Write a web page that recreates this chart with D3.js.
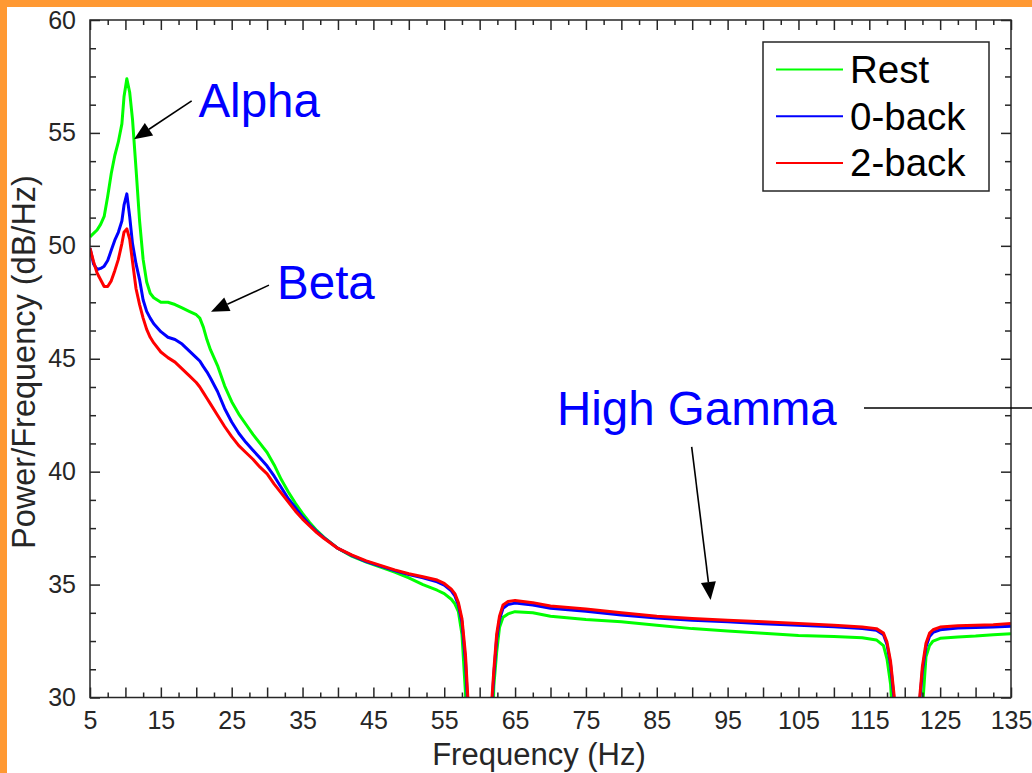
<!DOCTYPE html>
<html>
<head>
<meta charset="utf-8">
<script src="https://d3js.org/d3.v7.min.js"></script>
<style>
  body { margin: 0; background: #fff; }
  svg { display: block; font-family: "Liberation Sans", Arial, Helvetica, sans-serif; }
</style>
</head>
<body>
<svg></svg>
<script>
// frequency grid (Hz) shared by the three spectra
var freqs = [5, 5.5, 6, 6.5, 7, 7.5, 8, 8.5, 9, 9.5, 9.8, 10.2, 10.6, 11, 11.5, 12, 12.5, 13, 13.5, 14,
  15, 16, 17, 18, 19, 20, 20.5, 21, 21.5, 22, 23, 24, 25, 26, 27, 28, 29, 30, 31, 32, 33, 34, 35, 36, 37, 38,
  40, 42, 44, 46, 48, 50, 52, 54, 55, 56, 56.5, 57, 57.5, 58, 58.4, 59, 60, 61, 61.7, 62, 62.4, 62.8, 63.3, 64,
  65, 67.5, 70, 75, 80, 85, 90, 95, 100, 105, 110, 114, 116, 117, 117.5, 118, 118.5, 119, 120, 121, 122, 122.5,
  123, 123.5, 124, 125, 127.5, 130, 132.5, 135];

// power (dB/Hz)
var rest = [50.4, 50.55, 50.7, 50.95, 51.3, 52.2, 53.2, 54.0, 54.6, 55.4, 56.6, 57.4, 56.8, 55.6, 53.4, 51.1, 49.4, 48.4, 47.9, 47.7,
  47.5, 47.5, 47.4, 47.25, 47.1, 46.95, 46.8, 46.4, 45.85, 45.4, 44.7, 43.8, 43.1, 42.55, 42.1, 41.65, 41.25, 40.85, 40.3, 39.65, 39.1, 38.6, 38.15, 37.75, 37.4, 37.1,
  36.6, 36.25, 36.0, 35.78, 35.55, 35.3, 35.0, 34.75, 34.6, 34.35, 34.15, 33.8, 32.8, 30.2, 26, 22, 18, 22, 27, 30.5, 32.0, 33.1, 33.55, 33.7,
  33.8, 33.75, 33.6, 33.45, 33.35, 33.2, 33.05, 32.95, 32.85, 32.75, 32.7, 32.65, 32.55, 32.3, 31.7, 30.6, 28, 24, 18, 22, 26, 29.5,
  31.8, 32.3, 32.5, 32.62, 32.68, 32.72, 32.78, 32.82];

var back0 = [49.9, 49.2, 48.95, 49.0, 49.1, 49.35, 49.8, 50.25, 50.6, 51.1, 51.8, 52.3, 51.3, 50.1, 49.2, 48.5, 47.6, 47.1, 46.8, 46.55,
  46.2, 45.95, 45.85, 45.65, 45.35, 45.05, 44.9, 44.65, 44.42, 44.15, 43.55, 42.8, 42.2, 41.7, 41.3, 40.95, 40.6, 40.25, 39.8, 39.3, 38.8, 38.4, 38.0, 37.65, 37.35, 37.08,
  36.6, 36.28, 36.02, 35.82, 35.62, 35.44, 35.3, 35.12, 34.98, 34.72, 34.5, 34.1, 33.35, 31.6, 29.2, 24, 18, 23, 29.5, 31.0, 32.6, 33.45, 33.95, 34.12,
  34.18, 34.1, 33.95, 33.82, 33.65, 33.52, 33.42, 33.35, 33.27, 33.2, 33.13, 33.05, 32.98, 32.78, 32.35, 31.45, 29.9, 27, 20, 23, 29.4, 31.2,
  32.25, 32.7, 32.88, 33.0, 33.08, 33.1, 33.12, 33.16];

var back2 = [49.9, 49.3, 48.8, 48.5, 48.2, 48.2, 48.45, 48.9, 49.4, 50.1, 50.6, 50.75, 50.3, 49.3, 48.1, 47.4, 46.8, 46.3, 45.95, 45.7,
  45.3, 45.05, 44.85, 44.55, 44.25, 43.95, 43.75, 43.5, 43.25, 43.0, 42.5, 42.0, 41.55, 41.15, 40.85, 40.55, 40.2, 39.9, 39.45, 39.05, 38.65, 38.25, 37.9, 37.6, 37.3, 37.05,
  36.6, 36.3, 36.05, 35.85, 35.65, 35.48, 35.35, 35.2, 35.05, 34.8, 34.6, 34.2, 33.5, 31.9, 29.6, 24, 18, 23, 29.8, 31.2, 32.8, 33.6, 34.1, 34.25,
  34.3, 34.2, 34.05, 33.92, 33.75, 33.6, 33.5, 33.42, 33.35, 33.28, 33.2, 33.12, 33.05, 32.85, 32.45, 31.6, 30.1, 27, 20, 23, 29.6, 31.4,
  32.4, 32.85, 33.0, 33.12, 33.18, 33.2, 33.22, 33.28];

var seriesNames = ["Rest", "0-back", "2-back"];
var seriesColors = ["#00ff00", "#0000ff", "#ff0000"];

var xLabelTicks = [5, 15, 25, 35, 45, 55, 65, 75, 85, 95, 105, 115, 125, 135];
var yLabelTicks = [30, 35, 40, 45, 50, 55, 60];

// band annotations: text position and arrow (from -> to), in Hz / dB
var bandLabels = ["Alpha", "Beta", "High Gamma"];
var bandText = [[20.3, 55.7], [31.4, 47.64], [70.9, 42.06]];
var bandArrowFrom = [[19.35, 56.42], [30.26, 48.26], [89.93, 41.1]];
var bandArrowTo = [[11.21, 54.72], [22.08, 47.08], [92.6, 34.32]];

drawChart();

function drawChart() {
  var svgWidth = 1032, svgHeight = 773;
  var margin = { top: 20, right: 21, bottom: 75.5, left: 90 };
  var width = svgWidth - margin.left - margin.right;
  var height = svgHeight - margin.top - margin.bottom;
  var axisColor = "#262626";

  var svg = d3.select("svg")
    .attr("width", svgWidth)
    .attr("height", svgHeight);

  svg.append("rect").attr("width", svgWidth).attr("height", svgHeight).attr("fill", "#fff");

  var g = svg.append("g")
    .attr("transform", "translate(" + margin.left + "," + margin.top + ")");

  var x = d3.scaleLinear().domain([5, 135]).range([0, width]);
  var y = d3.scaleLinear().domain([30, 60]).range([height, 0]);

  g.append("clipPath").attr("id", "clip")
    .append("rect").attr("width", width).attr("height", height);

  var line = d3.line()
    .x(function(d) { return x(d[0]); })
    .y(function(d) { return y(d[1]); });

  [rest, back0, back2].forEach(function(vals, i) {
    g.append("path")
      .datum(freqs.map(function(f, j) { return [f, vals[j]]; }))
      .attr("clip-path", "url(#clip)")
      .attr("fill", "none")
      .attr("stroke", seriesColors[i])
      .attr("stroke-width", 3)
      .attr("stroke-linejoin", "round")
      .attr("d", line);
  });

  // ticks: majors every 5, minors in between, all pointing inward
  var xMajor = d3.range(5, 136, 5);
  var xMinor = d3.range(7.5, 135, 5);
  var yMajor = d3.range(30, 61, 5);
  var yMinor = d3.range(30, 60.01, 1.25).filter(function(v) { return v % 5 !== 0; });

  function styleAxis(sel) {
    sel.select(".domain").remove();
    sel.selectAll("line").attr("stroke", axisColor).attr("stroke-width", 1.5);
    sel.selectAll("text").attr("fill", axisColor).attr("font-size", 25);
  }

  g.append("g").attr("transform", "translate(0," + height + ")")
    .call(d3.axisBottom(x).tickValues(xMajor).tickSize(-10).tickPadding(14)
      .tickFormat(function(d) { return xLabelTicks.indexOf(d) >= 0 ? d : ""; }))
    .call(styleAxis);
  g.append("g").attr("transform", "translate(0," + height + ")")
    .call(d3.axisBottom(x).tickValues(xMinor).tickSize(-5).tickFormat(""))
    .call(styleAxis);
  g.append("g")
    .call(d3.axisTop(x).tickValues(xMajor).tickSize(-10).tickFormat(""))
    .call(styleAxis);
  g.append("g")
    .call(d3.axisTop(x).tickValues(xMinor).tickSize(-5).tickFormat(""))
    .call(styleAxis);

  g.append("g")
    .call(d3.axisLeft(y).tickValues(yMajor).tickSize(-10).tickPadding(14)
      .tickFormat(function(d) { return yLabelTicks.indexOf(d) >= 0 ? d : ""; }))
    .call(styleAxis);
  g.append("g")
    .call(d3.axisLeft(y).tickValues(yMinor).tickSize(-6).tickFormat(""))
    .call(styleAxis);
  g.append("g").attr("transform", "translate(" + width + ",0)")
    .call(d3.axisRight(y).tickValues(yMajor).tickSize(-10).tickFormat(""))
    .call(styleAxis);
  g.append("g").attr("transform", "translate(" + width + ",0)")
    .call(d3.axisRight(y).tickValues(yMinor).tickSize(-6).tickFormat(""))
    .call(styleAxis);

  g.append("rect")
    .attr("width", width).attr("height", height)
    .attr("fill", "none").attr("stroke", axisColor).attr("stroke-width", 1.5);

  g.append("text")
    .attr("x", 449).attr("y", height + 67)
    .attr("text-anchor", "middle").attr("font-size", 31).attr("fill", axisColor)
    .text("Frequency (Hz)");

  g.append("text")
    .attr("transform", "translate(-55," + 342 + ") rotate(-90)")
    .attr("text-anchor", "middle").attr("font-size", 32.5).attr("fill", axisColor)
    .text("Power/Frequency (dB/Hz)");

  // legend
  var lg = g.append("g").attr("transform", "translate(673,22)");
  lg.append("rect").attr("width", 226).attr("height", 149)
    .attr("fill", "#fff").attr("stroke", axisColor).attr("stroke-width", 1.5);
  seriesNames.forEach(function(name, i) {
    var cy = 27.5 + i * 46.7;
    lg.append("line").attr("x1", 13).attr("x2", 80).attr("y1", cy).attr("y2", cy)
      .attr("stroke", seriesColors[i]).attr("stroke-width", 2);
    lg.append("text").attr("x", 87).attr("y", cy + 13.5)
      .attr("font-size", 38.5).attr("fill", "#000").text(name);
  });

  // annotations
  bandLabels.forEach(function(label, i) {
    g.append("text")
      .attr("x", x(bandText[i][0])).attr("y", y(bandText[i][1]))
      .attr("font-size", 47.5).attr("fill", "#0000ff").text(label);

    var x0 = x(bandArrowFrom[i][0]), y0 = y(bandArrowFrom[i][1]);
    var x1 = x(bandArrowTo[i][0]), y1 = y(bandArrowTo[i][1]);
    var a = Math.atan2(y1 - y0, x1 - x0);
    var len = 18, hw = 7.5;
    var bx = x1 - len * Math.cos(a), by = y1 - len * Math.sin(a);
    g.append("line")
      .attr("x1", x0).attr("y1", y0).attr("x2", bx).attr("y2", by)
      .attr("stroke", "#000").attr("stroke-width", 1.6);
    g.append("path")
      .attr("d", "M" + x1 + "," + y1 +
        "L" + (bx + hw * Math.sin(a)) + "," + (by - hw * Math.cos(a)) +
        "L" + (bx - hw * Math.sin(a)) + "," + (by + hw * Math.cos(a)) + "Z")
      .attr("fill", "#000");
  });

  // leader line running off to the right of High Gamma
  g.append("line")
    .attr("x1", x(114.25)).attr("x2", x(138.2))
    .attr("y1", y(42.82)).attr("y2", y(42.82))
    .attr("stroke", "#000").attr("stroke-width", 1.5);

  // orange slide frame
  svg.append("rect").attr("x", 0).attr("y", 0).attr("width", svgWidth).attr("height", 7).attr("fill", "#ff9933");
  svg.append("rect").attr("x", 0).attr("y", 0).attr("width", 7).attr("height", svgHeight).attr("fill", "#ff9933");
}
</script>
</body>
</html>
